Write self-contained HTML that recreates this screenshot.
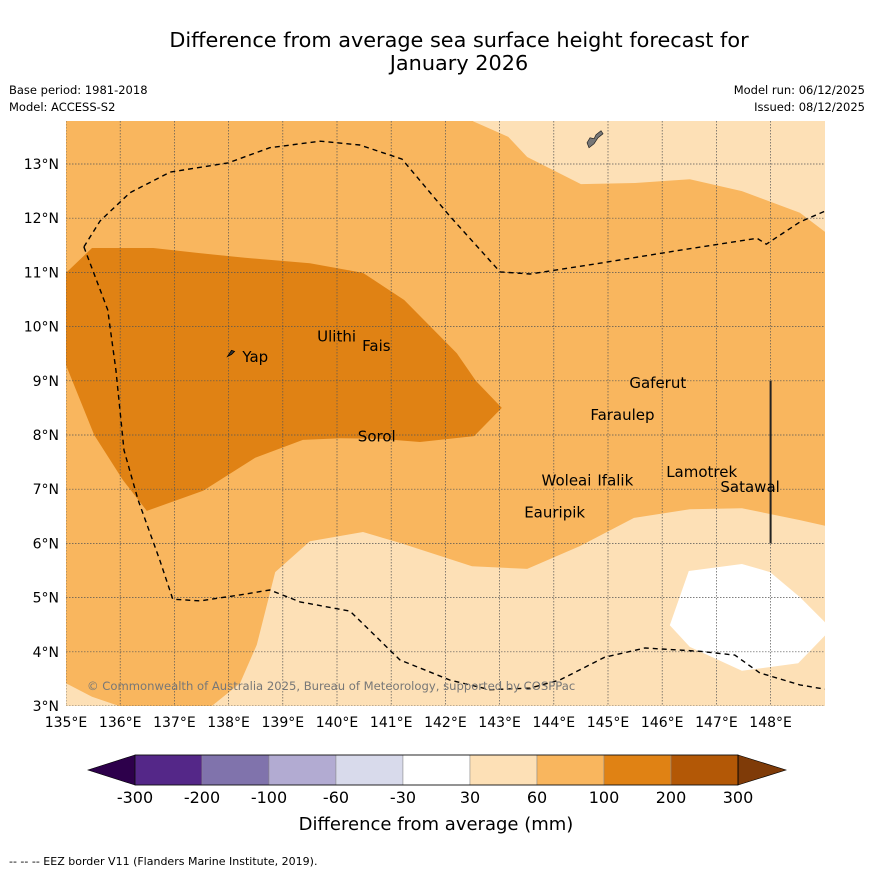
<!DOCTYPE html>
<html><head><meta charset="utf-8">
<style>
body{margin:0;background:#fff;}
svg text{font-family:"DejaVu Sans","Liberation Sans",sans-serif;}
</style></head>
<body>
<svg id="chart" width="873" height="873" viewBox="0 0 873 873" xmlns="http://www.w3.org/2000/svg">
<rect width="873" height="873" fill="#fff"/>
<text x="459" y="47" font-size="20.8" text-anchor="middle">Difference from average sea surface height forecast for</text>
<text x="459" y="70" font-size="20.8" text-anchor="middle">January 2026</text>
<text x="9" y="94" font-size="11.5">Base period: 1981-2018</text>
<text x="9" y="111" font-size="11.5">Model: ACCESS-S2</text>
<text x="865" y="94" font-size="11.5" text-anchor="end">Model run: 06/12/2025</text>
<text x="865" y="111" font-size="11.5" text-anchor="end">Issued: 08/12/2025</text>
<defs><clipPath id="mapclip"><rect x="66" y="121" width="759" height="585"/></clipPath></defs>
<g id="map" clip-path="url(#mapclip)"></g>
<g id="overlay"></g>
<g id="cbar"></g>
<text x="436" y="830" font-size="18" text-anchor="middle">Difference from average (mm)</text>
<text x="9" y="865" font-size="11">--  --  -- EEZ border V11 (Flanders Marine Institute, 2019).</text>
</svg>
<script>
// ---- data ----
const lonTicks=[135,136,137,138,139,140,141,142,143,144,145,146,147,148];
const latTicks=[3,4,5,6,7,8,9,10,11,12,13];
const cbarBounds=[-300,-200,-100,-60,-30,30,60,100,200,300];
const cbarColors=["#542788","#8073ac","#b2abd2","#d8daeb","#ffffff","#fde0b6","#f9b65e","#e08214","#b35806"];
const lightTopLon=[142.51,143.16,143.51,144.50,145.50,146.51,147.47,148.54,149.2,149.2,142.51];
const lightTopLat=[13.79,13.50,13.13,12.63,12.65,12.72,12.50,12.10,11.60,14,14];
const lightBotLon=[134.8,135,135.48,135.98,137.69,138.21,138.52,138.86,139.50,140.48,141.16,142.49,143.51,144.48,145.48,146.51,147.47,148.54,149.2,149.2,134.8];
const lightBotLat=[3.45,3.42,3.17,3.0,3.0,3.42,4.13,5.47,6.04,6.21,6.01,5.58,5.53,5.95,6.47,6.63,6.65,6.43,6.28,2.8,2.8];
const whiteLon=[146.49,147.47,147.99,148.54,149.1,149.1,148.51,147.47,146.51,146.14];
const whiteLat=[5.49,5.62,5.47,5.01,4.45,4.40,3.79,3.65,4.09,4.49];
const darkLon=[134.8,135,135.48,136.61,137.42,138.30,139.50,140.48,141.24,142.21,142.56,143.04,142.53,141.53,140.79,140.06,139.37,138.49,137.53,136.49,136.05,135.52,135,134.8];
const darkLat=[11.2,10.99,11.45,11.45,11.36,11.27,11.17,10.99,10.49,9.51,9.00,8.50,7.98,7.87,7.93,7.94,7.91,7.58,6.97,6.60,7.17,8.00,9.29,9.4];
const eezUpLon=[135.33,135.63,136.18,136.92,137.99,138.76,139.69,140.42,141.20,142.08,143.01,143.56,144.85,146.33,147.75,147.92,148.54,149];
const eezUpLat=[11.47,11.95,12.47,12.85,13.02,13.30,13.42,13.35,13.09,12.04,11.01,10.97,11.17,11.41,11.63,11.52,11.93,12.13];
const eezLoLon=[135.33,135.77,135.92,136.07,136.33,136.73,136.97,137.47,138.21,138.76,139.32,140.24,141.16,142.08,142.82,143.56,144.11,144.94,145.68,146.70,147.34,147.80,148.54,149];
const eezLoLat=[11.47,10.31,9.20,7.72,6.80,5.69,4.97,4.94,5.05,5.14,4.92,4.75,3.85,3.48,3.30,3.33,3.48,3.90,4.07,4.01,3.94,3.61,3.39,3.31];
const islandNames=["Yap","Ulithi","Fais","Sorol","Gaferut","Faraulep","Woleai","Ifalik","Lamotrek","Satawal","Eauripik"];
const islandLon=[138.18,139.56,140.39,140.31,145.32,144.60,143.70,144.73,146.00,147.00,143.38];
const islandLat=[9.44,9.82,9.64,7.97,8.96,8.37,7.16,7.16,7.32,7.04,6.57];
// ---- axes ----
const X=lon=>66+(lon-135)*54.2;
const Y=lat=>706-(lat-3)*54.2;
const NS="http://www.w3.org/2000/svg";
function mk(tag,attrs,parent){const e=document.createElementNS(NS,tag);for(const k in attrs)e.setAttribute(k,attrs[k]);parent.appendChild(e);return e;}
const map=document.getElementById('map'), ov=document.getElementById('overlay'), cb=document.getElementById('cbar');
const pts=(lo,la)=>lo.map((v,i)=>X(v).toFixed(1)+','+Y(la[i]).toFixed(1)).join(' ');
let e=mk('rect',{x:66,y:121,width:759,height:585,fill:"#f9b65e"},map);


e=mk('polygon',{points:pts(lightTopLon,lightTopLat),fill:"#fde0b6"},map);


e=mk('polygon',{points:pts(lightBotLon,lightBotLat),fill:"#fde0b6"},map);


e=mk('polygon',{points:pts(whiteLon,whiteLat),fill:"#ffffff"},map);


e=mk('polygon',{points:pts(darkLon,darkLat),fill:"#e08214"},map);


lonTicks.forEach(l=>{const g=mk('line',{x1:X(l),x2:X(l),y1:121,y2:706,stroke:"#555",'stroke-width':0.7,'stroke-dasharray':'1.5,1.5'},map);


const t=mk('text',{x:X(l),y:727,'font-size':14,'text-anchor':'middle'},ov);t.textContent=l+'°E';

});
latTicks.forEach(l=>{const g=mk('line',{x1:66,x2:825,y1:Y(l),y2:Y(l),stroke:"#555",'stroke-width':0.7,'stroke-dasharray':'1.5,1.5'},map);


const t=mk('text',{x:59,y:Y(l)+5,'font-size':14,'text-anchor':'end'},ov);t.textContent=l+'°N';

});
e=mk('polyline',{points:pts(eezUpLon,eezUpLat),fill:"none",stroke:"#000",'stroke-width':1.4,'stroke-dasharray':'5,4'},map);


e=mk('polyline',{points:pts(eezLoLon,eezLoLat),fill:"none",stroke:"#000",'stroke-width':1.4,'stroke-dasharray':'5,4'},map);


e=mk('line',{x1:X(148),x2:X(148),y1:Y(9),y2:Y(6),stroke:"#222",'stroke-width':2},map);


e=mk('path',{d:`M${X(137.98)},${Y(9.45)} l4,-6 l3,1 l-3,3 z`,fill:"#333",stroke:"#000",'stroke-width':0.8},map);


e=mk('path',{d:`M${X(144.65)},${Y(13.3)} l-2,-5 l3,-5 l4,1 l2,-4 l5,-4 l2,3 l-5,4 l-4,6 z`,fill:"#777",stroke:"#222",'stroke-width':0.7},map);


e=mk('text',{x:87,y:690,'font-size':11.6,fill:"#777"},map);e.textContent="© Commonwealth of Australia 2025, Bureau of Meteorology, supported by COSPPac";


islandNames.forEach((n,i)=>{const t=mk('text',{x:X(islandLon[i])+4,y:Y(islandLat[i])+5,'font-size':15},map);t.textContent=n;

});
// colorbar
const cx0=135,cw=(738-135)/cbarColors.length,cy=755,ch=30;
e=mk('polygon',{points:`${cx0},${cy} 88,${cy+ch/2} ${cx0},${cy+ch}`,fill:"#2d004b",stroke:"#000",'stroke-width':0.6},cb);


cbarColors.forEach((c,i)=>{const r=mk('rect',{x:cx0+i*cw,y:cy,width:cw,height:ch,fill:c,stroke:"#888",'stroke-width':0.5},cb);

});
e=mk('polygon',{points:`738,${cy} 786,${cy+ch/2} 738,${cy+ch}`,fill:"#7f3b08",stroke:"#000",'stroke-width':0.6},cb);


e=mk('rect',{x:cx0,y:cy,width:738-cx0,height:ch,fill:"none",stroke:"#000",'stroke-width':0.8},cb);


cbarBounds.forEach((b,i)=>{const t=mk('text',{x:cx0+i*cw,y:803,'font-size':16,'text-anchor':'middle'},cb);t.textContent=b;

});
</script>
</body></html>
